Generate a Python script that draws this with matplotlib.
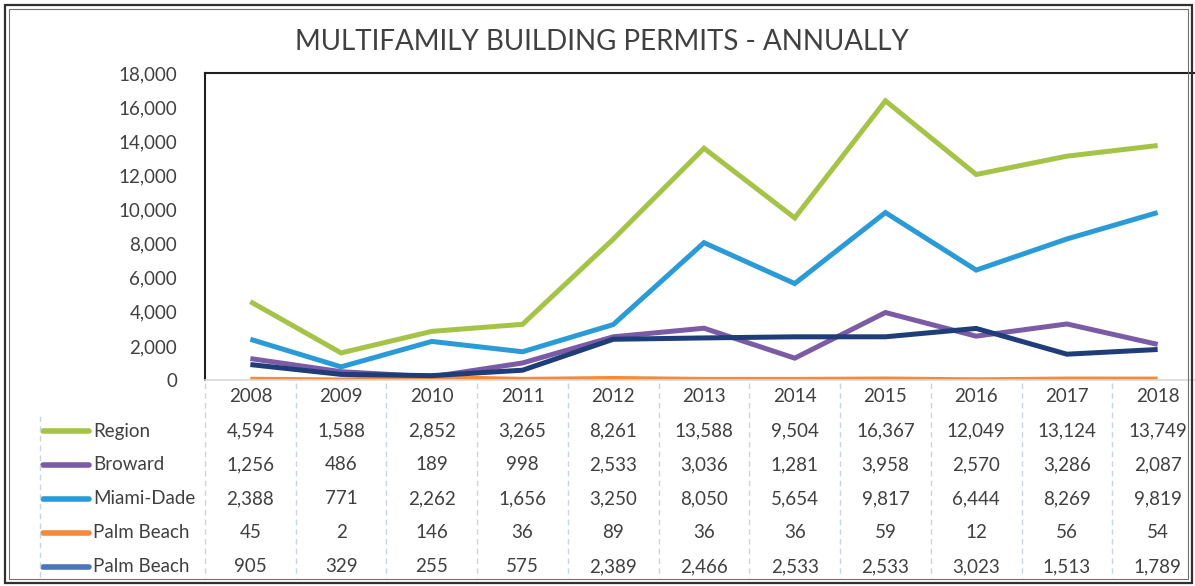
import matplotlib
matplotlib.use('Agg')
import matplotlib.pyplot as plt
import matplotlib.transforms as mtransforms
from matplotlib.lines import Line2D
from matplotlib.patches import Rectangle
from matplotlib.ticker import FuncFormatter

plt.rcParams['font.family'] = ['Lato', 'DejaVu Sans']

years = ['2008', '2009', '2010', '2011', '2012', '2013', '2014', '2015', '2016', '2017', '2018']
region = [4594, 1588, 2852, 3265, 8261, 13588, 9504, 16367, 12049, 13124, 13749]
broward = [1256, 486, 189, 998, 2533, 3036, 1281, 3958, 2570, 3286, 2087]
miami_dade = [2388, 771, 2262, 1656, 3250, 8050, 5654, 9817, 6444, 8269, 9819]
palm_beach_a = [45, 2, 146, 36, 89, 36, 36, 59, 12, 56, 54]
palm_beach_b = [905, 329, 255, 575, 2389, 2466, 2533, 2533, 3023, 1513, 1789]

series_names = ['Region', 'Broward', 'Miami-Dade', 'Palm Beach', 'Palm Beach']
series_values = [region, broward, miami_dade, palm_beach_a, palm_beach_b]
line_colors = ['#A5C347', '#7B5BA6', '#2A9BD7', '#F58A3A', '#1F3D78']
key_colors = ['#A5C347', '#7B5BA6', '#2A9BD7', '#F58A3A', '#4A75B8']

W, H = 1195, 586
TXT = '#404040'
FS = 13.5

fig = plt.figure(figsize=(W / 100, H / 100), dpi=100)

def fx(px):
    return px / W

def fy(py):
    return 1 - py / H

# outer double frame
fig.patches.append(Rectangle((fx(5), fy(583)), fx(1187), (578) / H, transform=fig.transFigure,
                             fill=False, edgecolor='#303030', linewidth=1.6))
fig.patches.append(Rectangle((fx(9), fy(579)), fx(1179), (570) / H, transform=fig.transFigure,
                             fill=False, edgecolor='#707070', linewidth=0.8))

# plot area
left, right, top, bottom = 205, 1203, 73, 380
ax = fig.add_axes([fx(left), fy(bottom), fx(right - left), (bottom - top) / H])
x = list(range(len(years)))
for vals, col in zip(series_values, line_colors):
    ax.plot(x, vals, color=col, linewidth=3.6, solid_joinstyle='miter', solid_capstyle='butt')

ax.set_xlim(-0.5, len(years) - 0.5)
ax.set_ylim(0, 18000)
ax.set_yticks(range(0, 18001, 2000))
ax.yaxis.set_major_formatter(FuncFormatter(lambda v, p: f'{int(v):,}'))
ax.tick_params(axis='y', length=0, pad=20, labelsize=FS, labelcolor=TXT)
ax.set_xticks([])
ax.spines['right'].set_visible(False)
ax.spines['top'].set_color('#202020')
ax.spines['left'].set_color('#202020')
ax.spines['top'].set_linewidth(1.5)
ax.spines['left'].set_linewidth(1.5)
ax.spines['bottom'].set_color('#D9D9D9')
ax.spines['bottom'].set_linewidth(1.2)

fig.text(fx(602), fy(42), 'MULTIFAMILY BUILDING PERMITS - ANNUALLY', ha='center', va='center',
         fontsize=20, color=TXT)

# data table under the plot
trans = mtransforms.blended_transform_factory(ax.transData, fig.transFigure)
header_y = 397
row_y = [431, 465, 499, 533, 567]

for i, yr in enumerate(years):
    fig.text(i, fy(header_y), yr, transform=trans, ha='center', va='center', fontsize=FS, color=TXT)

for r, (name, vals) in enumerate(zip(series_names, series_values)):
    for i, v in enumerate(vals):
        fig.text(i, fy(row_y[r]), f'{v:,}', transform=trans, ha='center', va='center',
                 fontsize=FS, color=TXT)
    fig.add_artist(Line2D([fx(43), fx(89)], [fy(row_y[r])] * 2, transform=fig.transFigure,
                          color=key_colors[r], linewidth=4, solid_capstyle='round'))
    fig.text(fx(93), fy(row_y[r]), name, ha='left', va='center', fontsize=FS, color=TXT)

# column separators
for i in range(len(years)):
    b = i - 0.5
    fig.add_artist(Line2D([b, b], [fy(383), fy(578)], transform=trans, color='#C8D4E2',
                          linewidth=1, linestyle=(0, (4, 3))))
fig.add_artist(Line2D([fx(40), fx(40)], [fy(416), fy(578)], transform=fig.transFigure,
                      color='#C8D4E2', linewidth=1, linestyle=(0, (4, 3))))

fig.savefig('out.png', dpi=100)
